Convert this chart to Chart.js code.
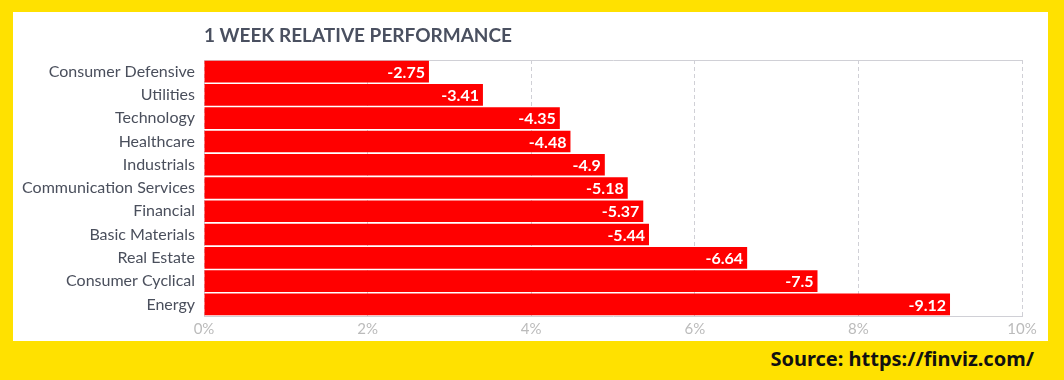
<!DOCTYPE html>
<html>
<head>
<meta charset="utf-8">
<script src="https://cdn.jsdelivr.net/npm/chart.js@4/dist/chart.umd.min.js"></script>
<style>
  html, body { margin: 0; padding: 0; }
  body { width: 1064px; height: 380px; background: #FFE100; position: relative; overflow: hidden; }
  #panel { position: absolute; left: 13px; top: 12px; width: 1035px; height: 329px; background: #ffffff; }
  #title { position: absolute; left: 191px; top: 11px; font-family: Lato, sans-serif; font-weight: 700; font-size: 19px; color: #4a5060; white-space: nowrap; }
  #source { position: absolute; right: 30px; top: 345px; font-family: "Noto Sans", sans-serif; font-weight: 700; font-size: 20px; color: #111; white-space: nowrap; }
  #wrap { position: absolute; left: 0; top: 0; width: 1035px; height: 329px; }
</style>
</head>
<body>
<div id="panel">
  <div id="wrap"><canvas id="c"></canvas></div>
  <div id="title">1 WEEK RELATIVE PERFORMANCE</div>
</div>
<div id="source">Source: https://finviz.com/</div>
<script>
const sectors = ["Consumer Defensive","Utilities","Technology","Healthcare","Industrials","Communication Services","Financial","Basic Materials","Real Estate","Consumer Cyclical","Energy"];
const weekPerformance = [-2.75,-3.41,-4.35,-4.48,-4.9,-5.18,-5.37,-5.44,-6.64,-7.5,-9.12];
const xTicks = [0,2,4,6,8,10];

const barLengths = weekPerformance.map(v => Math.abs(v));

const valueLabels = {
  id: 'valueLabels',
  afterDatasetsDraw(chart) {
    const ctx = chart.ctx;
    const meta = chart.getDatasetMeta(0);
    ctx.save();
    ctx.font = 'bold 16px Lato, sans-serif';
    ctx.fillStyle = '#ffffff';
    ctx.textAlign = 'right';
    ctx.textBaseline = 'middle';
    meta.data.forEach((bar, i) => {
      ctx.fillText(String(weekPerformance[i]), bar.x - 4, bar.y + 1);
    });
    ctx.restore();
  }
};

const gridColor = '#d0d0d6';

new Chart(document.getElementById('c'), {
  type: 'bar',
  data: {
    labels: sectors,
    datasets: [{
      data: barLengths,
      backgroundColor: '#ff0000',
      borderWidth: 0,
      barPercentage: 0.93,
      categoryPercentage: 1.0
    }]
  },
  plugins: [valueLabels],
  options: {
    indexAxis: 'y',
    responsive: true,
    maintainAspectRatio: false,
    animation: false,
    layout: { padding: { left: 0, right: 26, top: 48, bottom: 0 } },
    plugins: { legend: { display: false }, tooltip: { enabled: false }, title: { display: false } },
    scales: {
      x: {
        type: 'linear',
        min: 0, max: 10,
        afterBuildTicks(scale) { scale.ticks = xTicks.map(v => ({ value: v })); },
        afterFit(scale) { scale.height = 25; },
        ticks: {
          color: '#bbbbbb',
          font: { family: 'Lato, sans-serif', size: 15 },
          padding: 4,
          callback: v => v + '%'
        },
        grid: { color: gridColor, lineWidth: 1, drawTicks: false, tickBorderDash: [4, 3] },
        border: { display: true, color: gridColor, dash: [4, 3] }
      },
      x2: {
        type: 'linear',
        position: 'top',
        min: 0, max: 10,
        afterFit(scale) { scale.height = 0; },
        ticks: { display: false },
        grid: { display: false, drawTicks: false },
        border: { display: true, color: gridColor, dash: [4, 3] }
      },
      y: {
        afterFit(scale) { scale.width = 191; },
        ticks: {
          color: '#4a4f5c',
          font: { family: 'Lato, sans-serif', size: 16 },
          padding: 9,
          autoSkip: false
        },
        grid: { display: false, drawTicks: false },
        border: { display: false }
      }
    }
  }
});
</script>
</body>
</html>
